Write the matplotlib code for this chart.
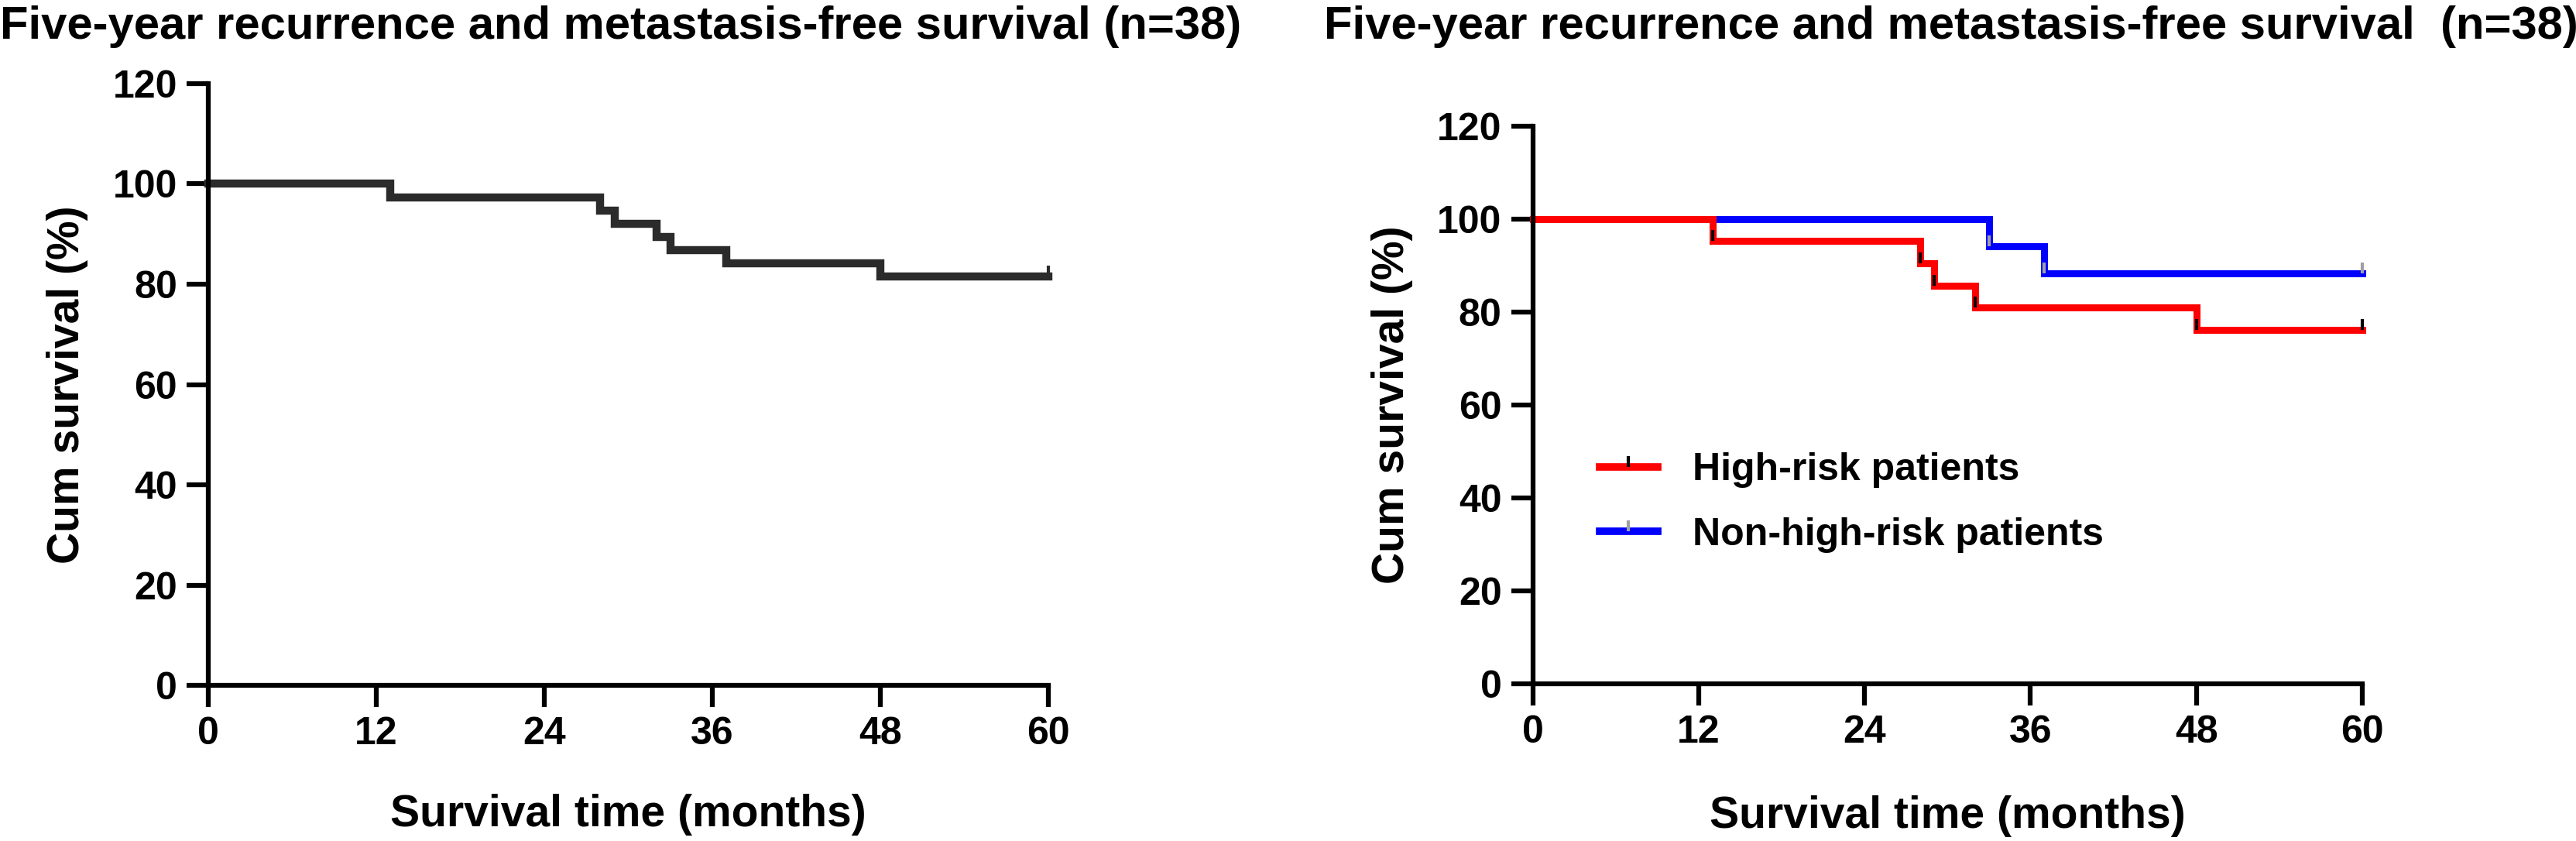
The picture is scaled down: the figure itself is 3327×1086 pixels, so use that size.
import matplotlib
matplotlib.use("Agg")
import matplotlib.pyplot as plt
from matplotlib.lines import Line2D
from matplotlib.path import Path

plt.rcParams['font.family'] = ['Liberation Sans', 'DejaVu Sans']
plt.rcParams['font.weight'] = 'bold'

# overall cohort (n=38)
all_times = [0, 13, 28, 29, 32, 33, 37, 48, 60]
all_surv = [100, 97.37, 94.74, 92.11, 89.47, 86.84, 84.21, 81.58, 81.58]
all_cens = [60]

# high-risk patients
high_times = [0, 13, 28, 29, 32, 48, 60]
high_surv = [100, 95.24, 90.48, 85.71, 80.95, 76.19, 76.19]
high_marks = [13, 28, 29, 32, 48, 60]

# non-high-risk patients
low_times = [0, 33, 37, 60]
low_surv = [100, 94.12, 88.24, 88.24]
low_marks = [33, 37, 60]

x_ticks = [0, 12, 24, 36, 48, 60]
y_ticks = [0, 20, 40, 60, 80, 100, 120]
title = "Five-year recurrence and metastasis-free survival (n=38)"
title2 = "Five-year recurrence and metastasis-free survival  (n=38)"

# censor tick pointing upwards from the curve
up_tick = Path([(0, 0), (0, 1)])


def surv_at(times, surv, t):
    v = surv[0]
    for tt, s in zip(times, surv):
        if tt <= t:
            v = s
    return v


def style_axes(ax, ylab_x):
    ax.set_xlim(0, 60)
    ax.set_ylim(0, 120)
    ax.set_xticks(x_ticks)
    ax.set_yticks(y_ticks)
    for s in ['top', 'right']:
        ax.spines[s].set_visible(False)
    for s in ['left', 'bottom']:
        ax.spines[s].set_linewidth(4.5)
    ax.tick_params(width=4.5, length=20, labelsize=36, pad=9)
    ax.set_xlabel("Survival time (months)", fontsize=41, fontweight='bold')
    ax.set_ylabel("Cum survival (%)", fontsize=41, fontweight='bold')
    ax.yaxis.set_label_coords(ylab_x, 0.5)


fig = plt.figure(figsize=(33.27, 10.86), dpi=100)

# left panel
ax1 = fig.add_axes([0.0809, 0.185, 0.3261, 0.7156])
ax1.step(all_times, all_surv, where='post', color='#2b2b2b', lw=7.5,
         clip_on=False, solid_joinstyle='miter')
ax1.plot(all_cens, [surv_at(all_times, all_surv, t) for t in all_cens],
         ls='none', marker=up_tick, ms=20, mew=3, mec='#2b2b2b', clip_on=False)
style_axes(ax1, -0.143)
ax1.xaxis.set_label_coords(0.5, -0.18)

# right panel
ax2 = fig.add_axes([0.5951, 0.187, 0.3219, 0.663])
ax2.step(low_times, low_surv, where='post', color='#0000ff', lw=6.5,
         clip_on=False, solid_joinstyle='miter')
ax2.step(high_times, high_surv, where='post', color='#ff0000', lw=6.5,
         clip_on=False, solid_joinstyle='miter')
ax2.plot(high_marks, [surv_at(high_times, high_surv, t) for t in high_marks],
         ls='none', marker=up_tick, ms=20, mew=3, mec='black', clip_on=False)
ax2.plot(low_marks, [surv_at(low_times, low_surv, t) for t in low_marks],
         ls='none', marker=up_tick, ms=20, mew=3, mec='#a0a0a0', clip_on=False)
style_axes(ax2, -0.145)
ax2.xaxis.set_label_coords(0.5, -0.20)

handles = [
    Line2D([], [], color='#ff0000', lw=7, marker=up_tick, ms=20, mew=3, mec='black'),
    Line2D([], [], color='#0000ff', lw=7, marker=up_tick, ms=20, mew=3, mec='#a0a0a0'),
]
ax2.legend(handles, ["High-risk patients", "Non-high-risk patients"],
           loc='upper left', bbox_to_anchor=(0.08, 0.415), frameon=False,
           fontsize=36, handlelength=1.5, handletextpad=0.9,
           labelspacing=0.75, borderpad=0, borderaxespad=0, numpoints=1)

fig.text(0.0, 1 - 50 / 1086, title, fontsize=43, fontweight='bold',
         ha='left', va='baseline')
fig.text(0.514, 1 - 50 / 1086, title2, fontsize=43, fontweight='bold',
         ha='left', va='baseline')

fig.savefig("out.png", dpi=100)
